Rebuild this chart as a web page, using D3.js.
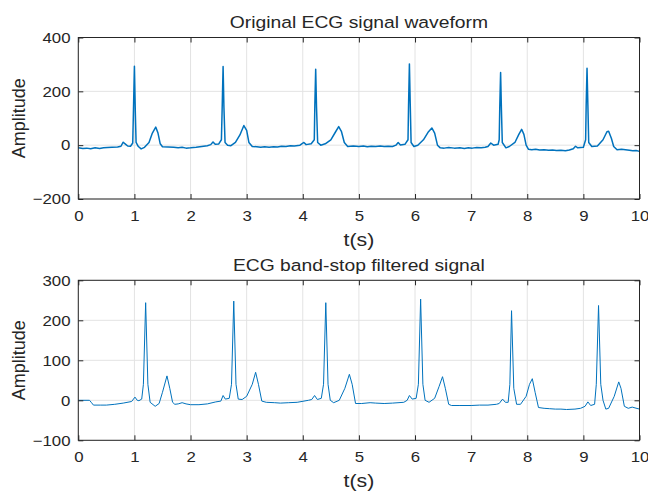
<!DOCTYPE html>
<html>
<head>
<meta charset="utf-8">
<script src="https://cdn.jsdelivr.net/npm/d3@7"></script>
<style>
  body { margin: 0; background: #fff; }
  svg text { font-family: Arial, "Liberation Sans", Helvetica, sans-serif; fill: #262626; }
</style>
</head>
<body>
<div id="chart"></div>
<script>
// ECG plots: raw signal on top, band-stop filtered signal below
// values as [t (s), amplitude]

var origSignal = [
  [0,-10],[0.08,-12],[0.15,-11],[0.22,-13],[0.3,-10],[0.38,-12],[0.45,-10],[0.52,-9],[0.6,-8],[0.7,-7],[0.76,-4],[0.8,11],[0.84,4],[0.88,-3],[0.93,-4],
  [0.97,8],[0.985,150],[1.0,293],[1.015,130],[1.03,10],[1.07,-5],[1.12,-14],[1.18,-8],[1.26,10],
  [1.32,45],[1.38,67],[1.42,45],[1.46,5],[1.5,-6],[1.6,-7],[1.7,-8],[1.78,-10],[1.85,-8],[1.92,-11],[2.0,-10],[2.1,-8],
  [2.2,-5],[2.3,-2],[2.36,2],[2.4,12],[2.44,3],[2.5,4],[2.55,20],[2.565,150],[2.58,292],[2.595,140],
  [2.615,10],[2.66,0],[2.72,-2],[2.8,10],[2.88,38],[2.95,73],[3.0,55],[3.04,10],[3.1,-5],[3.18,-6],[3.25,-8],
  [3.32,-6],[3.4,-8],[3.48,-6],[3.55,-7],[3.62,-4],[3.7,-5],[3.78,-2],[3.85,-3],[3.95,0],[4.02,10],[4.06,2],[4.15,5],[4.205,20],[4.215,150],
  [4.23,282],[4.245,140],[4.265,10],[4.32,0],[4.4,5],[4.5,20],[4.58,48],[4.64,69],[4.69,50],[4.74,10],
  [4.8,-5],[4.9,-3],[5.0,-5],[5.08,-3],[5.15,-6],[5.22,-4],[5.3,-5],[5.38,-3],[5.45,-5],[5.52,-4],[5.6,-5],[5.66,0],[5.7,10],[5.74,1],[5.82,3],
  [5.875,20],[5.885,150],[5.9,302],[5.915,150],[5.93,10],[5.98,-5],[6.05,0],[6.15,20],[6.24,50],
  [6.3,64],[6.35,45],[6.4,0],[6.45,-10],[6.52,-11],[6.6,-9],[6.7,-11],[6.8,-10],[6.88,-12],[6.95,-10],[7.02,-11],[7.1,-9],[7.18,-10],[7.25,-8],[7.3,-5],
  [7.35,8],[7.4,0],[7.48,3],[7.5,20],[7.51,140],[7.525,270],[7.54,130],[7.555,10],[7.62,-10],[7.68,-5],
  [7.78,10],[7.85,40],[7.9,59],[7.94,40],[7.98,0],[8.02,-15],[8.08,-17],[8.15,-15],[8.22,-18],[8.3,-17],[8.38,-19],[8.45,-18],[8.52,-20],[8.6,-19],
  [8.68,-21],[8.75,-18],[8.82,-13],[8.86,-4],[8.9,-10],[9.0,-8],[9.04,20],[9.05,150],[9.065,286],[9.08,150],
  [9.095,10],[9.15,-5],[9.25,-3],[9.35,20],[9.42,50],[9.45,52],[9.5,25],[9.54,-5],[9.6,-17],[9.68,-15],
  [9.75,-17],[9.82,-19],[9.88,-21],[9.94,-20],[10.0,-23]
];

var filteredSignal = [
  [0,0],[0.2,0],[0.23,-5],[0.27,-12],[0.4,-12],[0.5,-12],[0.65,-10],[0.8,-7],[0.95,-3],[1.01,8],
  [1.05,0],[1.08,-1],[1.13,3],[1.16,40],[1.2,244],[1.24,40],[1.28,-5],[1.37,-15],[1.44,-8],
  [1.5,20],[1.58,61],[1.63,30],[1.68,-5],[1.72,-10],[1.78,-9],[1.85,-6],[1.92,-9],[2.0,-11],
  [2.15,-11],[2.3,-9],[2.45,-4],[2.54,-2],[2.58,12],[2.62,3],[2.69,5],[2.73,40],[2.77,248],
  [2.81,40],[2.85,3],[2.92,2],[3.0,10],[3.1,40],[3.16,70],[3.21,40],[3.27,-2],[3.35,-5],[3.5,-6],
  [3.6,-7],[3.75,-6],[3.9,-5],[4.1,0],[4.16,2],[4.21,12],[4.26,2],[4.33,5],[4.37,40],[4.41,244],
  [4.45,40],[4.49,0],[4.55,-6],[4.65,0],[4.75,30],[4.83,65],[4.88,40],[4.94,-8],[5.05,-8],[5.2,-6],
  [5.3,-7],[5.45,-8],[5.6,-7],[5.8,-5],[5.86,0],[5.9,12],[5.95,3],[6.02,5],[6.06,40],[6.1,253],
  [6.14,40],[6.18,0],[6.25,-5],[6.35,5],[6.43,35],[6.49,59],[6.54,30],[6.6,-10],[6.65,-13],
  [6.8,-13],[7.0,-13],[7.15,-12],[7.3,-12],[7.45,-10],[7.5,-8],[7.56,3],[7.61,-5],[7.66,-5],[7.69,40],
  [7.72,224],[7.76,30],[7.81,-10],[7.88,-10],[7.98,10],[8.04,40],[8.09,54],[8.14,20],[8.2,-18],
  [8.3,-20],[8.4,-21],[8.5,-22],[8.6,-22],[8.7,-23],[8.85,-22],[8.95,-20],[9.03,-15],[9.08,-4],
  [9.13,-13],[9.2,-10],[9.23,40],[9.27,237],[9.31,40],[9.35,0],[9.4,-22],[9.45,-20],[9.55,10],
  [9.63,46],[9.67,30],[9.73,-15],[9.8,-20],[9.87,-17],[9.92,-19],[10.0,-22]
];

var xTicks = [0,1,2,3,4,5,6,7,8,9,10];
var yTicksTop = [-200,0,200,400];
var yTicksBottom = [-100,0,100,200,300];
var titles = ["Original ECG signal waveform", "ECG band-stop filtered signal"];

var width = 648, height = 491;
var lineColor = "#0072BD", gridColor = "#e3e3e3", axisColor = "#262626";

var svg = d3.select("#chart").append("svg")
  .attr("width", width)
  .attr("height", height);

// text in the reference is a bit wider than plain Arial
function stretch(sel, cx, k){
  sel.attr("transform", "translate(" + cx + ",0) scale(" + k + ",1) translate(" + (-cx) + ",0)");
}

function drawPanel(data, yDomain, yTicks, title, top, bottom, strokeW){
  var x = d3.scaleLinear().domain([0, 10]).range([78.3, 639.5]);
  var y = d3.scaleLinear().domain(yDomain).range([bottom, top]);
  var g = svg.append("g");

  // grid
  g.selectAll(".gx").data(xTicks).enter().append("line")
    .attr("x1", d => x(d)).attr("x2", d => x(d))
    .attr("y1", top).attr("y2", bottom)
    .attr("stroke", gridColor).attr("stroke-width", 1);
  g.selectAll(".gy").data(yTicks).enter().append("line")
    .attr("x1", x(0)).attr("x2", x(10))
    .attr("y1", d => y(d)).attr("y2", d => y(d))
    .attr("stroke", gridColor).attr("stroke-width", 1);

  // signal
  var line = d3.line().x(d => x(d[0])).y(d => y(d[1]));
  g.append("path")
    .attr("d", line(data))
    .attr("fill", "none")
    .attr("stroke", lineColor)
    .attr("stroke-width", strokeW)
    .attr("stroke-linejoin", "round");

  // axes with inward ticks on all four sides
  var tl = 5;
  var xb = g.append("g").attr("transform", "translate(0," + bottom + ")")
    .call(d3.axisBottom(x).tickValues(xTicks).tickSizeInner(-tl).tickSizeOuter(0).tickPadding(11))
    .call(a => a.select(".domain").remove());
  g.append("g").attr("transform", "translate(0," + top + ")")
    .call(d3.axisTop(x).tickValues(xTicks).tickSizeInner(-tl).tickSizeOuter(0).tickFormat(""))
    .call(a => a.select(".domain").remove());
  var yl = g.append("g").attr("transform", "translate(" + x(0) + ",0)")
    .call(d3.axisLeft(y).tickValues(yTicks).tickSizeInner(-tl).tickSizeOuter(0).tickPadding(7))
    .call(a => a.select(".domain").remove());
  g.append("g").attr("transform", "translate(" + x(10) + ",0)")
    .call(d3.axisRight(y).tickValues(yTicks).tickSizeInner(-tl).tickSizeOuter(0).tickFormat(""))
    .call(a => a.select(".domain").remove());

  g.selectAll(".tick line").attr("stroke", axisColor);
  g.selectAll(".tick text").style("font-size", "15px").style("font-family", "Arial, 'Liberation Sans', sans-serif").attr("fill", axisColor);
  xb.selectAll(".tick text").attr("transform", "scale(1.12,1)");
  yl.selectAll(".tick text").attr("transform", "scale(1.12,1)");

  g.append("rect")
    .attr("x", x(0)).attr("y", top)
    .attr("width", x(10) - x(0)).attr("height", bottom - top)
    .attr("fill", "none").attr("stroke", axisColor).attr("stroke-width", 1);

  // labels
  var cx = (x(0) + x(10)) / 2;
  g.append("text")
    .attr("x", cx).attr("y", top - 9)
    .attr("text-anchor", "middle")
    .style("font-size", "16.5px")
    .call(stretch, cx, 1.17)
    .text(title);
  g.append("text")
    .attr("x", cx).attr("y", bottom + 47)
    .attr("text-anchor", "middle")
    .style("font-size", "18.5px")
    .call(stretch, cx, 1.15)
    .text("t(s)");
  g.append("text")
    .attr("transform", "translate(25," + ((top + bottom) / 2) + ") rotate(-90)")
    .attr("text-anchor", "middle")
    .style("font-size", "18px")
    .text("Amplitude");
}

drawPanel(origSignal, [-200, 400], yTicksTop, titles[0], 37.5, 199, 1.5);
drawPanel(filteredSignal, [-100, 300], yTicksBottom, titles[1], 280.3, 440.3, 1);
</script>
</body>
</html>
